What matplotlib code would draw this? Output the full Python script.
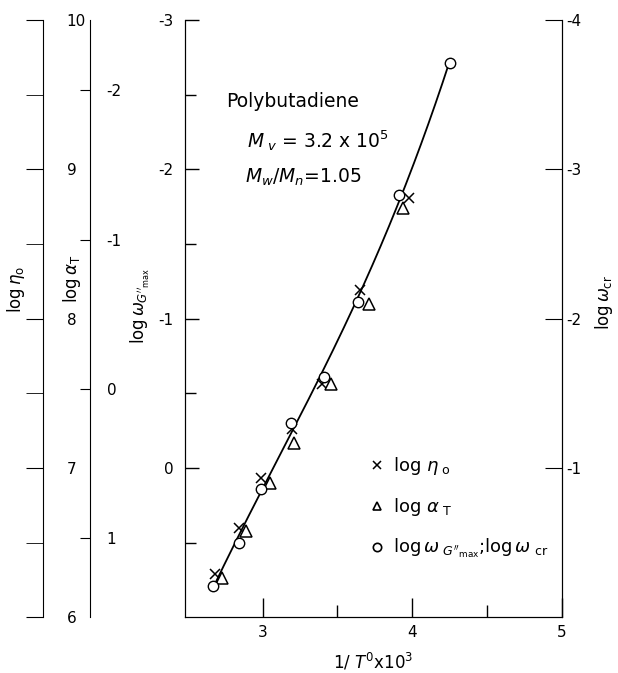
import numpy as np
import matplotlib.pyplot as plt
from matplotlib.lines import Line2D

# ------------------ Data ------------------
inv_T_eta = [2.68, 2.84, 2.99, 3.20, 3.40, 3.65, 3.98]
log_eta0 = [6.29, 6.60, 6.93, 7.26, 7.56, 8.19, 8.81]

inv_T_aT = [2.73, 2.89, 3.05, 3.21, 3.46, 3.71, 3.94]
log_aT = [1.27, 0.95, 0.63, 0.36, -0.03, -0.57, -1.21]

inv_T_w = [2.67, 2.84, 2.99, 3.19, 3.41, 3.64, 3.91, 4.25]
log_wG = [0.79, 0.50, 0.14, -0.30, -0.61, -1.11, -1.83, -2.71]

# shifts between the parallel scales (all have the same unit length)
ETA_SHIFT = 7.0     # log eta0 = 7 - log w_G
AT_SHIFT = 0.53     # log aT = log w_G + 0.53
CR_SHIFT = -1.0     # log w_cr = log w_G - 1

plt.rcParams['font.family'] = ['DejaVu Sans']
plt.rcParams['mathtext.fontset'] = 'dejavusans'
FS = 11

fig = plt.figure(figsize=(6.18, 6.73), dpi=100)
L, B, W, H = 0.299, 0.083, 0.610, 0.887
ax = fig.add_axes([L, B, W, H])

# ------------------ Main plot (everything on the log w_G scale) ------------------
ax.plot(inv_T_eta, ETA_SHIFT - np.array(log_eta0), linestyle='none',
        marker='x', ms=7, mew=1.1, color='black')
ax.plot(inv_T_aT, np.array(log_aT) - AT_SHIFT, linestyle='none', marker='^',
        ms=8, mfc='white', mec='black', mew=1.1)

# smooth curve through the circles
coef = np.polyfit(inv_T_w, log_wG, 3)
xs = np.linspace(inv_T_w[0], inv_T_w[-1], 200)
ax.plot(xs, np.polyval(coef, xs), color='black', lw=1.3, zorder=1)
ax.plot(inv_T_w, log_wG, linestyle='none', marker='o', ms=7.5,
        mfc='white', mec='black', mew=1.0, zorder=3)

ax.set_xlim(2.48, 5.0)
ax.set_ylim(1.0, -3.0)
ax.spines['top'].set_visible(False)
ax.set_xticks([3, 4, 5])
ax.set_xticks([3.5, 4.5], minor=True)
ax.set_yticks([-3, -2, -1, 0])
ax.set_yticklabels(['-3', '-2', '-1', '0'])
ax.set_yticks([-2.5, -1.5, -0.5, 0.5], minor=True)
ax.tick_params(axis='both', which='both', direction='in', labelsize=FS, width=1)
ax.tick_params(axis='x', which='major', length=14, pad=6)
ax.tick_params(axis='x', which='minor', length=9)
ax.tick_params(axis='y', which='major', length=10, pad=8)
ax.tick_params(axis='y', which='minor', length=8)
ax.set_xlabel(r'1/ $T^0$x10$^3$', fontsize=FS + 1, labelpad=8)

# right axis: log w_cr
axr = ax.twinx()
axr.set_ylim(1.0 + CR_SHIFT, -3.0 + CR_SHIFT)
axr.spines['top'].set_visible(False)
axr.set_yticks([-4, -3, -2, -1])
axr.set_yticklabels(['-4', '-3', '-2', '-1'])
axr.tick_params(axis='y', direction='in', length=12, labelsize=FS, pad=3)
fig.text(0.977, 0.55, r'log$\,\omega_{\mathrm{cr}}$', rotation=90,
         fontsize=FS + 1, ha='center', va='center')

# left extra axes: log eta0 and log aT
def side_axis(xpos, lim, major, minor, ticklen):
    a = fig.add_axes([xpos, B, 0.0001, H])
    a.set_ylim(*lim)
    for s in ['top', 'right', 'bottom']:
        a.spines[s].set_visible(False)
    a.set_xticks([])
    a.set_yticks(major)
    a.set_yticklabels([str(v) for v in major])
    if minor:
        a.set_yticks(minor, minor=True)
    a.tick_params(axis='y', which='both', direction='out', length=ticklen,
                  left=True, right=False, labelleft=False, labelright=True,
                  labelsize=FS, pad=5)
    a.patch.set_visible(False)
    return a

side_axis(43 / 618, (ETA_SHIFT - 1.0, ETA_SHIFT + 3.0),
          [6, 7, 8, 9, 10], [6.5, 7.5, 8.5, 9.5], 12)
side_axis(90 / 618, (1.0 + AT_SHIFT, -3.0 + AT_SHIFT),
          [-2, -1, 0, 1], None, 7)

fig.text(0.026, 0.57, r'log$\,\eta_{\mathrm{o}}$', rotation=90,
         fontsize=FS + 1, ha='center', va='center')
fig.text(0.116, 0.585, r'log$\,\alpha_{\mathrm{T}}$', rotation=90,
         fontsize=FS + 1, ha='center', va='center')
fig.text(0.228, 0.545, r"log$\,\omega_{G''_{\mathrm{max}}}$", rotation=90,
         fontsize=FS + 1, ha='center', va='center')

# ------------------ Annotations ------------------
ax.text(0.11, 0.855, 'Polybutadiene', transform=ax.transAxes, fontsize=13.5)
ax.text(0.165, 0.787, r'$M_{\ v}$ = 3.2 x 10$^5$', transform=ax.transAxes,
        fontsize=13.5)
ax.text(0.16, 0.727, r'$M_w/M_n$=1.05', transform=ax.transAxes,
        fontsize=13.5)

handles = [
    Line2D([], [], ls='none', marker='x', ms=6, mew=1.1, color='black'),
    Line2D([], [], ls='none', marker='^', ms=6, mfc='white', mec='black', mew=1.2),
    Line2D([], [], ls='none', marker='o', ms=6, mfc='white', mec='black', mew=1.2),
]
labels = [r'log $\eta_{\ \mathrm{o}}$', r'log $\alpha_{\ \mathrm{T}}$',
          r"log$\,\omega_{\ G''_{\mathrm{max}}}$;log$\,\omega_{\ \mathrm{cr}}$"]
ax.legend(handles, labels, loc='upper left', bbox_to_anchor=(0.475, 0.283),
          frameon=False, fontsize=13, handlelength=0.7, handletextpad=0.5,
          labelspacing=1.05, borderaxespad=0)

fig.savefig('out.png', dpi=100)
